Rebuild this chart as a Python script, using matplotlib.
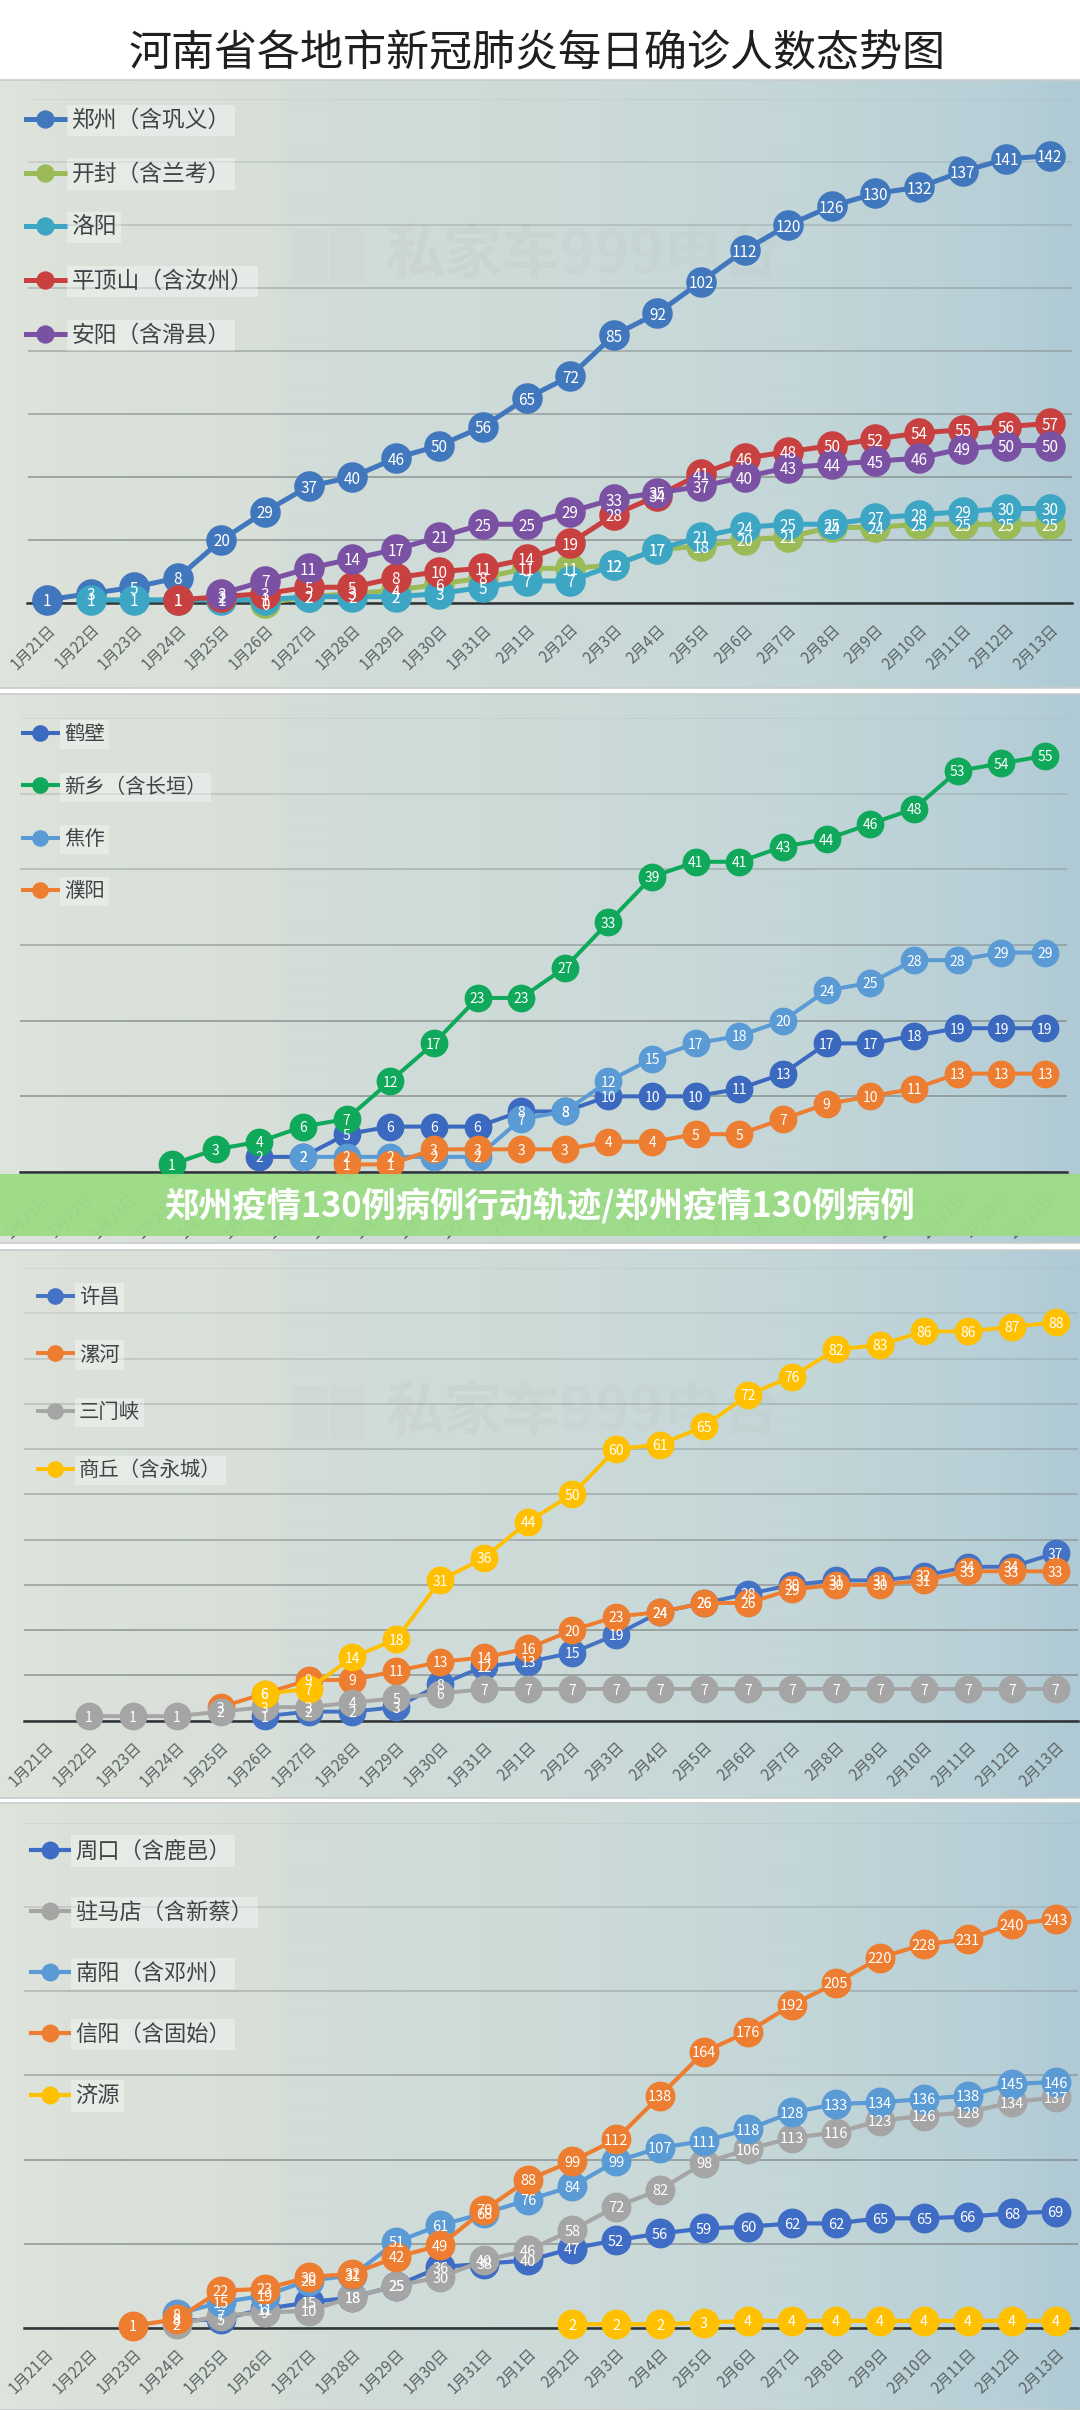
import numpy as np
import matplotlib
matplotlib.use('Agg')
import matplotlib.pyplot as plt
from matplotlib.transforms import ScaledTranslation
from matplotlib.colors import to_rgb
from matplotlib.patches import FancyBboxPatch

plt.rcParams['font.family'] = ['Noto Sans CJK SC', 'DejaVu Sans']

W, H = 1080, 2410
dates = ['1月21日','1月22日','1月23日','1月24日','1月25日','1月26日','1月27日','1月28日','1月29日','1月30日','1月31日',
         '2月1日','2月2日','2月3日','2月4日','2月5日','2月6日','2月7日','2月8日','2月9日','2月10日','2月11日','2月12日','2月13日']
N = None

# panel 1
zhengzhou = [1,3,5,8,20,29,37,40,46,50,56,65,72,85,92,102,112,120,126,130,132,137,141,142]
kaifeng = [N,N,N,N,N,0,2,3,4,6,8,11,11,12,17,18,20,21,24,24,25,25,25,25]
luoyang = [N,1,1,1,1,1,2,2,2,3,5,7,7,12,17,21,24,25,25,27,28,29,30,30]
pingdingshan = [N,N,N,1,2,3,5,5,8,10,11,14,19,28,34,41,46,48,50,52,54,55,56,57]
anyang = [N,N,N,N,3,7,11,14,17,21,25,25,29,33,35,37,40,43,44,45,46,49,50,50]
# panel 2
hebi = [N,N,N,N,N,2,2,5,6,6,6,8,8,10,10,10,11,13,17,17,18,19,19,19]
xinxiang = [N,N,N,1,3,4,6,7,12,17,23,23,27,33,39,41,41,43,44,46,48,53,54,55]
jiaozuo = [N,N,N,N,N,N,2,2,2,2,2,7,8,12,15,17,18,20,24,25,28,28,29,29]
puyang = [N,N,N,N,N,N,N,1,1,3,3,3,3,4,4,5,5,7,9,10,11,13,13,13]
# panel 3
xuchang = [N,N,N,N,N,1,2,2,3,8,12,13,15,19,24,26,28,30,31,31,32,34,34,37]
luohe = [N,N,N,N,3,6,9,9,11,13,14,16,20,23,24,26,26,29,30,30,31,33,33,33]
sanmenxia = [N,1,1,1,2,3,3,4,5,6,7,7,7,7,7,7,7,7,7,7,7,7,7,7]
shangqiu = [N,N,N,N,N,6,7,14,18,31,36,44,50,60,61,65,72,76,82,83,86,86,87,88]
# panel 4
zhoukou = [N,N,N,4,5,11,15,18,25,36,38,40,47,52,56,59,60,62,62,65,65,66,68,69]
zhumadian = [N,N,N,2,7,9,10,18,25,30,40,46,58,72,82,98,106,113,116,123,126,128,134,137]
nanyang = [N,N,N,8,15,19,28,31,51,61,68,76,84,99,107,111,118,128,133,134,136,138,145,146]
xinyang = [N,N,1,5,22,23,30,32,42,49,70,88,99,112,138,164,176,192,205,220,228,231,240,243]
jiyuan = [N,N,N,N,N,N,N,N,N,N,N,N,2,2,2,3,4,4,4,4,4,4,4,4]

panels = [
    dict(series=[('郑州（含巩义）',zhengzhou,'#4177BC'),('开封（含兰考）',kaifeng,'#9BBB59'),('洛阳',luoyang,'#3DA6C4'),
                 ('平顶山（含汝州）',pingdingshan,'#C8403F'),('安阳（含滑县）',anyang,'#7B52A3')],
         x0=47,dx=43.6,left=27.5,right=1072,base=603,top=99,ymax=160,step=20,lw=3.6,ms=22,fs=11,
         leg_x=26,leg_y=122.5,leg_dy=53.5,leg_fs=16.4),
    dict(series=[('鹤壁',hebi,'#3C69C0'),('新乡（含长垣）',xinxiang,'#10A85A'),('焦作',jiaozuo,'#5B9BD5'),('濮阳',puyang,'#ED7D31')],
         x0=41,dx=43.65,left=20,right=1067,base=1172,top=718,ymax=60,step=10,lw=2.9,ms=20,fs=10,
         leg_x=23,leg_y=736.5,leg_dy=51.8,leg_fs=14.7),
    dict(series=[('许昌',xuchang,'#4472C4'),('漯河',luohe,'#ED7D31'),('三门峡',sanmenxia,'#A5A5A5'),('商丘（含永城）',shangqiu,'#FFC000')],
         x0=44.8,dx=43.95,left=24,right=1078,base=1720.7,top=1268,ymax=100,step=10,lw=2.8,ms=20,fs=10,
         leg_x=38,leg_y=1299,leg_dy=57.2,leg_fs=14.7),
    dict(series=[('周口（含鹿邑）',zhoukou,'#3F6CC4'),('驻马店（含新蔡）',zhumadian,'#A5A5A5'),('南阳（含邓州）',nanyang,'#5B9BD5'),
                 ('信阳（含固始）',xinyang,'#ED7D31'),('济源',jiyuan,'#FFC000')],
         x0=44.8,dx=43.95,left=24,right=1078,base=2327.6,top=1823.3,ymax=300,step=50,lw=3.0,ms=21.5,fs=10.5,
         leg_x=31,leg_y=1853,leg_dy=60.4,leg_fs=16),
]

fig = plt.figure(figsize=(W/100, H/100), dpi=100, facecolor='white')

# page background in pixel coordinates
bg = fig.add_axes([0,0,1,1], zorder=-1)
bg.set_xlim(0,W); bg.set_ylim(H,0); bg.axis('off')
stops_x = [0, 60, 270, 290, 600, 800, 1000, 1080]
stops_c = ['#DFE4DC','#DCE2DA','#D8DFD9','#D3DDD8','#CBDAD8','#C3D6D8','#B7CFD7','#AFCAD5']
rgb = np.array([to_rgb(c) for c in stops_c])
xs = np.arange(W)
grad = np.stack([np.interp(xs, stops_x, rgb[:,k]) for k in range(3)], axis=1)[None,:,:]
for t,b in [(80,688),(694,1243),(1250,1798),(1803,2410)]:
    bg.imshow(grad, extent=(0,W,b,t), aspect='auto', interpolation='bilinear', zorder=0)
    bg.plot([0,W],[t,t], color='#C9CCCB', lw=1.2, zorder=1)
    bg.plot([0,W],[b,b], color='#C9CCCB', lw=1.2, zorder=1)
bg.set_xlim(0,W); bg.set_ylim(H,0)

for wx,wy in [(584,256),(584,1413)]:
    bg.text(wx, wy, '私家车999电台', fontsize=42, fontweight='bold', color='#BFC9C7', alpha=0.28,
            ha='center', va='center', zorder=2)
    for ix in (wx-288, wx-250):
        bg.add_patch(FancyBboxPatch((ix, wy-24), 28, 48, boxstyle='round,pad=3', fc='#BFC9C7', ec='none', alpha=0.14, zorder=2))

fig.text(0.4972, 1-54/H, '河南省各地市新冠肺炎每日确诊人数态势图', fontsize=31, color='#1F1F1F', ha='center', va='center')

for p in panels:
    ax = fig.add_axes([p['left']/W, 1-p['base']/H, (p['right']-p['left'])/W, (p['base']-p['top'])/H])
    ax.patch.set_visible(False)
    ax.set_xlim((p['left']-p['x0'])/p['dx'], (p['right']-p['x0'])/p['dx'])
    ax.set_ylim(0, p['ymax'])
    for s in ['top','left','right']:
        ax.spines[s].set_visible(False)
    ax.spines['bottom'].set_color('#2E3436')
    ax.spines['bottom'].set_linewidth(1.8)
    ax.set_yticks(np.arange(0, p['ymax']+1, p['step']))
    ax.tick_params(axis='y', length=0, labelleft=False)
    ax.grid(axis='y', lw=1.2, zorder=1)
    ax.set_axisbelow(True)
    gl = ax.get_ygridlines()
    n = len(gl)
    for i,l in enumerate(gl):
        l.set_color('#7F8786')
        l.set_alpha(0.78 - 0.66*max(0, i-2)/max(1, n-3))
    ax.set_xticks(range(len(dates)))
    ax.set_xticklabels(dates, rotation=45, ha='right', va='top', rotation_mode='anchor', fontsize=11, color='#5B6365')
    ax.tick_params(axis='x', length=0, pad=13)
    for k,(name,vals,col) in enumerate(p['series']):
        idx = [i for i,v in enumerate(vals) if v is not None]
        yv = [vals[i] for i in idx]
        ax.plot(idx, yv, '-o', color=col, lw=p['lw'], ms=p['ms'], mew=0, clip_on=False, zorder=3+k*0.1, label=name)
        for i,v in zip(idx,yv):
            ax.text(i, v, str(v), color='white', fontsize=p['fs'], ha='center', va='center_baseline', zorder=10, clip_on=False)
    fpx = p['leg_fs']*100/72
    leg = ax.legend(loc='upper left', bbox_to_anchor=(p['leg_x']/W, 1-(p['leg_y']-fpx*0.6)/H), bbox_transform=fig.transFigure,
                    frameon=False, fontsize=p['leg_fs'], markerscale=0.6, handlelength=1.7, handletextpad=0.3,
                    borderpad=0, borderaxespad=0, labelspacing=(p['leg_dy']-fpx*1.0)/fpx, numpoints=1)
    for t in leg.get_texts():
        t.set_color('#3F4446')
        t.set_bbox(dict(facecolor='white', alpha=0.35, edgecolor='none', pad=3))

# banner
ov = fig.add_axes([0,0,1,1], zorder=20)
ov.set_xlim(0,W); ov.set_ylim(H,0); ov.axis('off'); ov.patch.set_visible(False)
ov.fill_between([0,W],[1174,1174],[1236,1236], color='#9CDC86', alpha=0.95, lw=0)
ov.text(540, 1206, '郑州疫情130例病例行动轨迹/郑州疫情130例病例', fontsize=24.7, fontweight='bold', color='white',
        ha='center', va='center')

fig.savefig('out.png', dpi=100, facecolor='white')
